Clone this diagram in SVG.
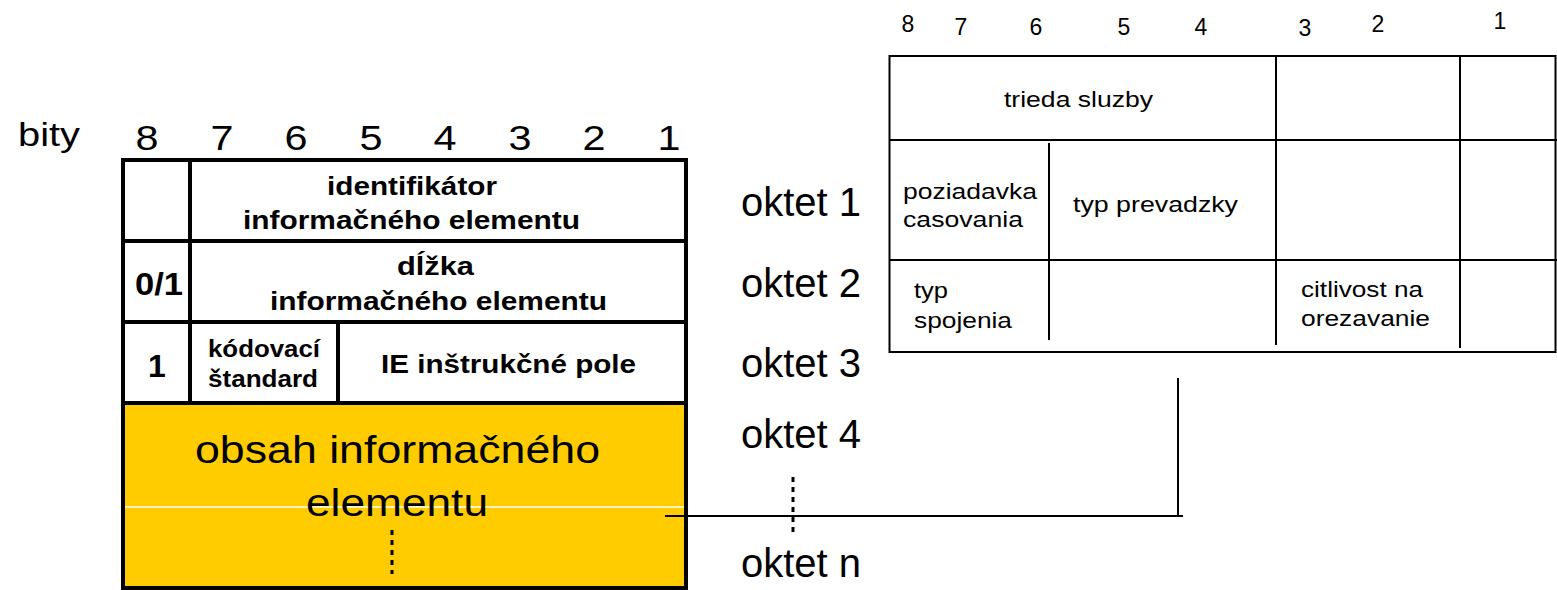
<svg xmlns="http://www.w3.org/2000/svg" width="1557" height="590" viewBox="0 0 1557 590">
<style>
text{font-family:"Liberation Sans",Arial,sans-serif;fill:#000}
.big{font-size:40px}
.bit{font-size:35px}
.b{font-weight:bold;font-size:25px}
.sm{font-size:22px}
.thin{stroke:#000;stroke-width:2;fill:none}
.thick{stroke:#000;stroke-width:4;fill:none}
.dot{stroke:#000;stroke-width:3;stroke-dasharray:5,5;fill:none}
</style>
<rect width="1557" height="590" fill="#fff"/>
<g id="bit-labels-left" class="bit" text-anchor="middle">
<text x="49" y="146" font-size="33" textLength="62" lengthAdjust="spacingAndGlyphs">bity</text>
<text x="147" y="150" textLength="23" lengthAdjust="spacingAndGlyphs">8</text>
<text x="222" y="150" textLength="23" lengthAdjust="spacingAndGlyphs">7</text>
<text x="296" y="150" textLength="23" lengthAdjust="spacingAndGlyphs">6</text>
<text x="371" y="150" textLength="23" lengthAdjust="spacingAndGlyphs">5</text>
<text x="445" y="150" textLength="23" lengthAdjust="spacingAndGlyphs">4</text>
<text x="520" y="150" textLength="23" lengthAdjust="spacingAndGlyphs">3</text>
<text x="594" y="150" textLength="23" lengthAdjust="spacingAndGlyphs">2</text>
<text x="669" y="150" textLength="23" lengthAdjust="spacingAndGlyphs">1</text>
</g>
<g id="left-table">
<rect x="123" y="403" width="563" height="185" fill="#ffcc00"/>
<line x1="125" y1="507" x2="684" y2="507" stroke="#fff" stroke-width="1.5"/>
<line x1="123" y1="241" x2="686" y2="241" class="thick"/>
<line x1="123" y1="322" x2="686" y2="322" class="thick"/>
<line x1="123" y1="403" x2="686" y2="403" class="thick"/>
<line x1="190" y1="160" x2="190" y2="403" class="thick"/>
<line x1="338" y1="322" x2="338" y2="403" class="thick"/>
<rect x="123" y="160" width="563" height="428" class="thick"/>
<g class="b" text-anchor="middle">
<text x="412" y="195" textLength="170" lengthAdjust="spacingAndGlyphs">identifikátor</text>
<text x="411.5" y="229" textLength="337" lengthAdjust="spacingAndGlyphs">informačného elementu</text>
<text x="159" y="295" font-size="32" textLength="48" lengthAdjust="spacingAndGlyphs">0/1</text>
<text x="435.5" y="275" textLength="77" lengthAdjust="spacingAndGlyphs">dĺžka</text>
<text x="438.5" y="310" textLength="337" lengthAdjust="spacingAndGlyphs">informačného elementu</text>
<text x="157" y="377" font-size="32">1</text>
<text x="264" y="357" font-size="23" textLength="112" lengthAdjust="spacingAndGlyphs">kódovací</text>
<text x="263" y="387" font-size="23" textLength="110" lengthAdjust="spacingAndGlyphs">štandard</text>
<text x="508.5" y="373" textLength="255" lengthAdjust="spacingAndGlyphs">IE inštrukčné pole</text>
</g>
<g text-anchor="middle" font-size="39">
<text x="397.5" y="463" textLength="405" lengthAdjust="spacingAndGlyphs">obsah informačného</text>
<text x="397" y="516" textLength="182" lengthAdjust="spacingAndGlyphs">elementu</text>
</g>
<line x1="392" y1="530" x2="392" y2="574" class="dot"/>
</g>
<g id="oktet-labels" class="big">
<text x="741" y="216">oktet 1</text>
<text x="741" y="297">oktet 2</text>
<text x="741" y="377">oktet 3</text>
<text x="741" y="448">oktet 4</text>
<text x="741" y="577">oktet n</text>
</g>
<line x1="793" y1="477" x2="793" y2="532" class="dot"/>
<g id="connectors">
<line x1="665" y1="516" x2="1183" y2="516" class="thin"/>
<line x1="1178" y1="378" x2="1178" y2="515" class="thin"/>
</g>
<g id="bit-labels-right" font-size="23" text-anchor="middle">
<text x="908" y="32">8</text><text x="961" y="35">7</text><text x="1036" y="35">6</text><text x="1124" y="35">5</text>
<text x="1201" y="35">4</text><text x="1305" y="36">3</text><text x="1378" y="32">2</text><text x="1500" y="29">1</text>
</g>
<g id="right-table">
<rect x="889.5" y="56" width="666" height="296" class="thin"/>
<line x1="889" y1="140" x2="1557" y2="140" class="thin"/>
<line x1="889" y1="260" x2="1557" y2="260" class="thin"/>
<line x1="1276" y1="57" x2="1276" y2="345" class="thin"/>
<line x1="1460" y1="56" x2="1460" y2="348" class="thin"/>
<line x1="1049" y1="143" x2="1049" y2="340" class="thin"/>
<g class="sm">
<text x="1004" y="107" textLength="149" lengthAdjust="spacingAndGlyphs">trieda sluzby</text>
<text x="903" y="199" textLength="134" lengthAdjust="spacingAndGlyphs">poziadavka</text>
<text x="903" y="227" textLength="120" lengthAdjust="spacingAndGlyphs">casovania</text>
<text x="1073" y="212" textLength="165" lengthAdjust="spacingAndGlyphs">typ prevadzky</text>
<text x="914" y="298" textLength="34" lengthAdjust="spacingAndGlyphs">typ</text>
<text x="914" y="328" textLength="98" lengthAdjust="spacingAndGlyphs">spojenia</text>
<text x="1301" y="297" textLength="122" lengthAdjust="spacingAndGlyphs">citlivost na</text>
<text x="1301" y="326" textLength="129" lengthAdjust="spacingAndGlyphs">orezavanie</text>
</g>
</g>
</svg>
